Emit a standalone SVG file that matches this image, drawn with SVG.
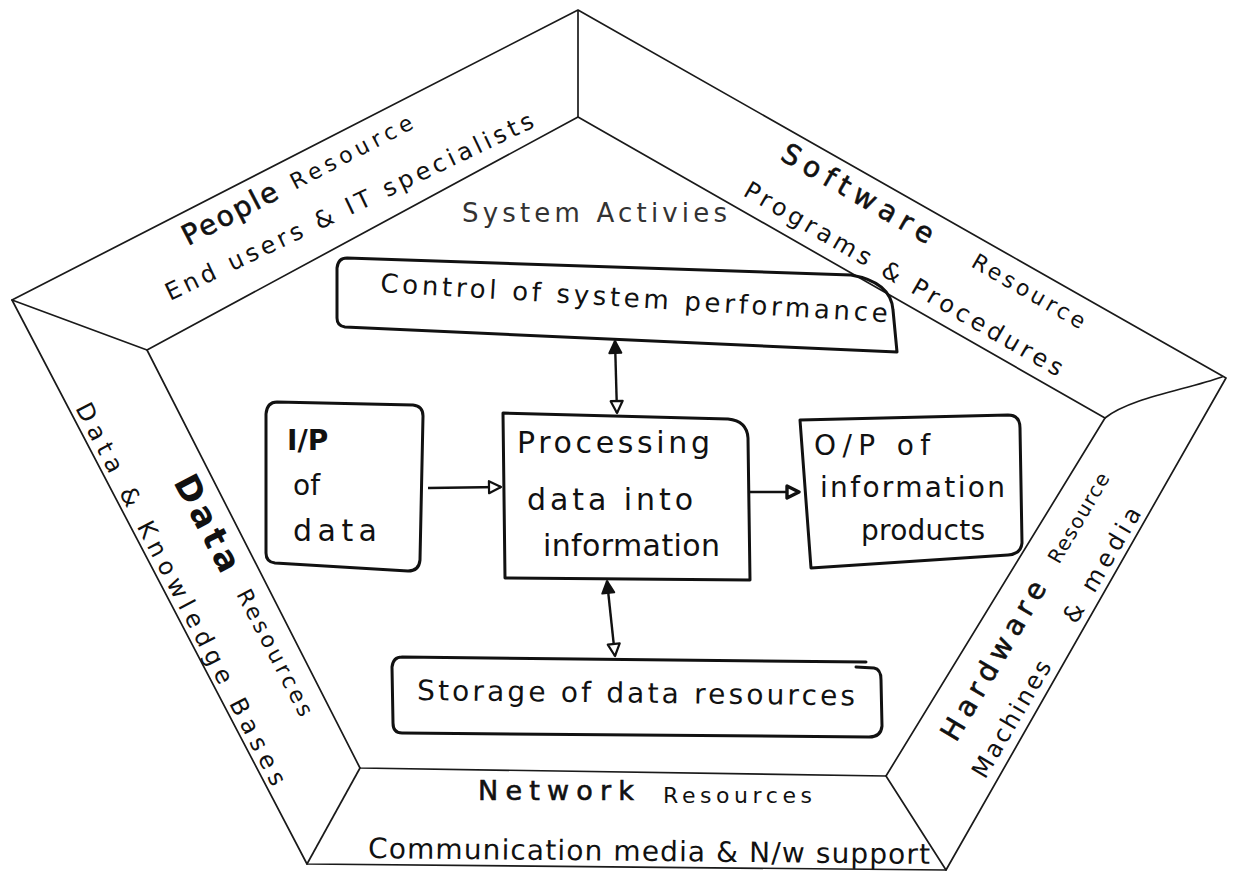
<svg xmlns="http://www.w3.org/2000/svg" width="1234" height="888" viewBox="0 0 1234 888">
  <style>
    .edge { fill: none; stroke: #1a1a1a; stroke-width: 1.7; stroke-linejoin: round; stroke-linecap: round; }
    .box { fill: none; stroke: #111; stroke-width: 3; stroke-linejoin: round; stroke-linecap: round; }
    .link { fill: none; stroke: #111; stroke-width: 2.4; }
    .t { font-family: "DejaVu Sans", "Liberation Sans", sans-serif; fill: #111; }
    .pen { stroke: #111; stroke-width: 0.6; }
    .lite { fill: #333; }
  </style>
  <defs>
    <marker id="tri-open" viewBox="0 0 16 16" refX="14" refY="8" markerWidth="16" markerHeight="16" markerUnits="userSpaceOnUse" orient="auto-start-reverse">
      <path d="M2,2 L14,8 L2,14 Z" fill="#fff" stroke="#111" stroke-width="2.2" stroke-linejoin="round"/>
    </marker>
    <marker id="tri-bold" viewBox="0 0 16 16" refX="14" refY="8" markerWidth="16" markerHeight="16" markerUnits="userSpaceOnUse" orient="auto-start-reverse">
      <path d="M2,2 L14,8 L2,14 Z" fill="#fff" stroke="#111" stroke-width="3.4" stroke-linejoin="round"/>
    </marker>
    <marker id="tri-solid" viewBox="0 0 16 16" refX="14" refY="8" markerWidth="16" markerHeight="16" markerUnits="userSpaceOnUse" orient="auto-start-reverse">
      <path d="M2,2 L14,8 L2,14 Z" fill="#111" stroke="#111" stroke-width="2" stroke-linejoin="round"/>
    </marker>
  </defs>

  <rect width="1234" height="888" fill="#fff"/>

  <!-- pentagonal frame: outer ring, inner ring and the corner ridges -->
  <g id="frame">
    <polygon class="edge" points="12,300 578,10 1226,378 946,870 307,864"/>
    <polygon class="edge" points="147,350 578,117 1105,418 886,776 360,768"/>
    <path class="edge" d="M578,11 L578,117"/>
    <path class="edge" d="M12,300 L147,350"/>
    <path class="edge" d="M1222,377 C1185,390 1130,398 1105,418"/>
    <path class="edge" d="M886,776 L946,870"/>
    <path class="edge" d="M360,768 L307,864"/>
  </g>

  <!-- resource bands -->
  <g id="node-people">
    <text class="t pen" font-size="28" textLength="104" transform="translate(188,246) rotate(-27.5)">People</text>
    <text class="t" font-size="22" textLength="135" transform="translate(295,190) rotate(-27.5)">Resource</text>
    <text class="t" font-size="24" textLength="405" transform="translate(170,301) rotate(-25.5)">End users &amp; IT specialists</text>
  </g>

  <g id="node-software">
    <text class="t pen" font-size="28" textLength="171" transform="translate(779,159) rotate(30)">Software</text>
    <text class="t" font-size="22" textLength="127" transform="translate(970,266) rotate(30)">Resource</text>
    <text class="t" font-size="24" textLength="364" transform="translate(742,195) rotate(30)">Programs &amp; Procedures</text>
  </g>

  <g id="node-data">
    <text class="t" font-size="34" font-weight="bold" textLength="105" transform="translate(173,482) rotate(62.5)">Data</text>
    <text class="t" font-size="22" textLength="140" transform="translate(236,594) rotate(62.5)">Resources</text>
    <text class="t" font-size="24" textLength="428" transform="translate(75,408) rotate(62.5)">Data &amp; Knowledge Bases</text>
  </g>

  <g id="node-hardware">
    <text class="t pen" font-size="28" textLength="180" transform="translate(956,743) rotate(-59.5)">Hardware</text>
    <text class="t" font-size="20" textLength="101" transform="translate(1059,565) rotate(-59.5)">Resource</text>
    <text class="t" font-size="24" textLength="132" transform="translate(985,780) rotate(-59.5)">Machines</text>
    <text class="t" font-size="24" textLength="130" transform="translate(1076,625) rotate(-59.5)">&amp; media</text>
  </g>

  <g id="node-network">
    <text class="t pen" font-size="27" textLength="156" x="478" y="800">Network</text>
    <text class="t" font-size="22" textLength="149" x="663" y="803">Resources</text>
    <text class="t" font-size="28" textLength="562" transform="translate(368,858) rotate(0.6)">Communication media &amp; N/w support</text>
  </g>

  <!-- system activities -->
  <g id="node-system-activities">
    <text class="t lite" font-size="26" textLength="265" x="462" y="222">System Activies</text>
  </g>

  <g id="node-control">
    <path class="box" d="M347,258 L851,275 Q891,282 893,310 L897,352 L345,327 Q337,326 337,318 L337,268 Q338,258 347,258 Z"/>
    <text class="t" font-size="26" textLength="508" transform="translate(380,292) rotate(3.4)">Control of system performance</text>
  </g>

  <g id="node-input">
    <path class="box" d="M277,402 L413,405 Q423,406 423,416 L420,560 Q419,571 408,571 L275,563 Q266,562 266,553 L266,414 Q267,402 277,402 Z"/>
    <text class="t" font-size="28" font-weight="bold" x="287" y="450">I/P</text>
    <text class="t" font-size="28" x="293" y="495">of</text>
    <text class="t" font-size="30" textLength="84" x="293" y="541">data</text>
  </g>

  <g id="node-processing">
    <path class="box" d="M503,413 L728,419 Q747,421 748,438 L750,580 L505,578 Z"/>
    <text class="t" font-size="30" textLength="193" x="517" y="453">Processing</text>
    <text class="t" font-size="30" textLength="166" x="527" y="510">data into</text>
    <text class="t" font-size="30" textLength="177" x="543" y="556">information</text>
  </g>

  <g id="node-output">
    <path class="box" d="M800,420 L1008,415 Q1020,415 1020,428 L1022,543 Q1021,554 1008,555 L811,568 Z"/>
    <text class="t" font-size="28" textLength="116" x="814" y="455">O/P of</text>
    <text class="t" font-size="28" textLength="185" x="820" y="497">information</text>
    <text class="t" font-size="28" textLength="124" x="861" y="540">products</text>
  </g>

  <g id="node-storage">
    <path class="box" d="M402,657 L866,662 M856,667 L874,668 Q881,669 881,680 L882,726 Q881,737 869,737 L402,733 Q393,733 393,723 L392,667 Q393,657 402,657"/>
    <text class="t" font-size="28" textLength="438" transform="translate(417,700) rotate(0.7)">Storage of data resources</text>
  </g>

  <!-- connectors between the activity boxes -->
  <g id="connectors">
    <path class="link" d="M615,341 L617,413" marker-start="url(#tri-solid)" marker-end="url(#tri-open)"/>
    <path class="link" d="M607,581 L615,656" marker-start="url(#tri-solid)" marker-end="url(#tri-open)"/>
    <path class="link" d="M428,488 L501,487" marker-end="url(#tri-open)"/>
    <path class="link" d="M750,492 L799,492" marker-end="url(#tri-bold)"/>
  </g>
</svg>
